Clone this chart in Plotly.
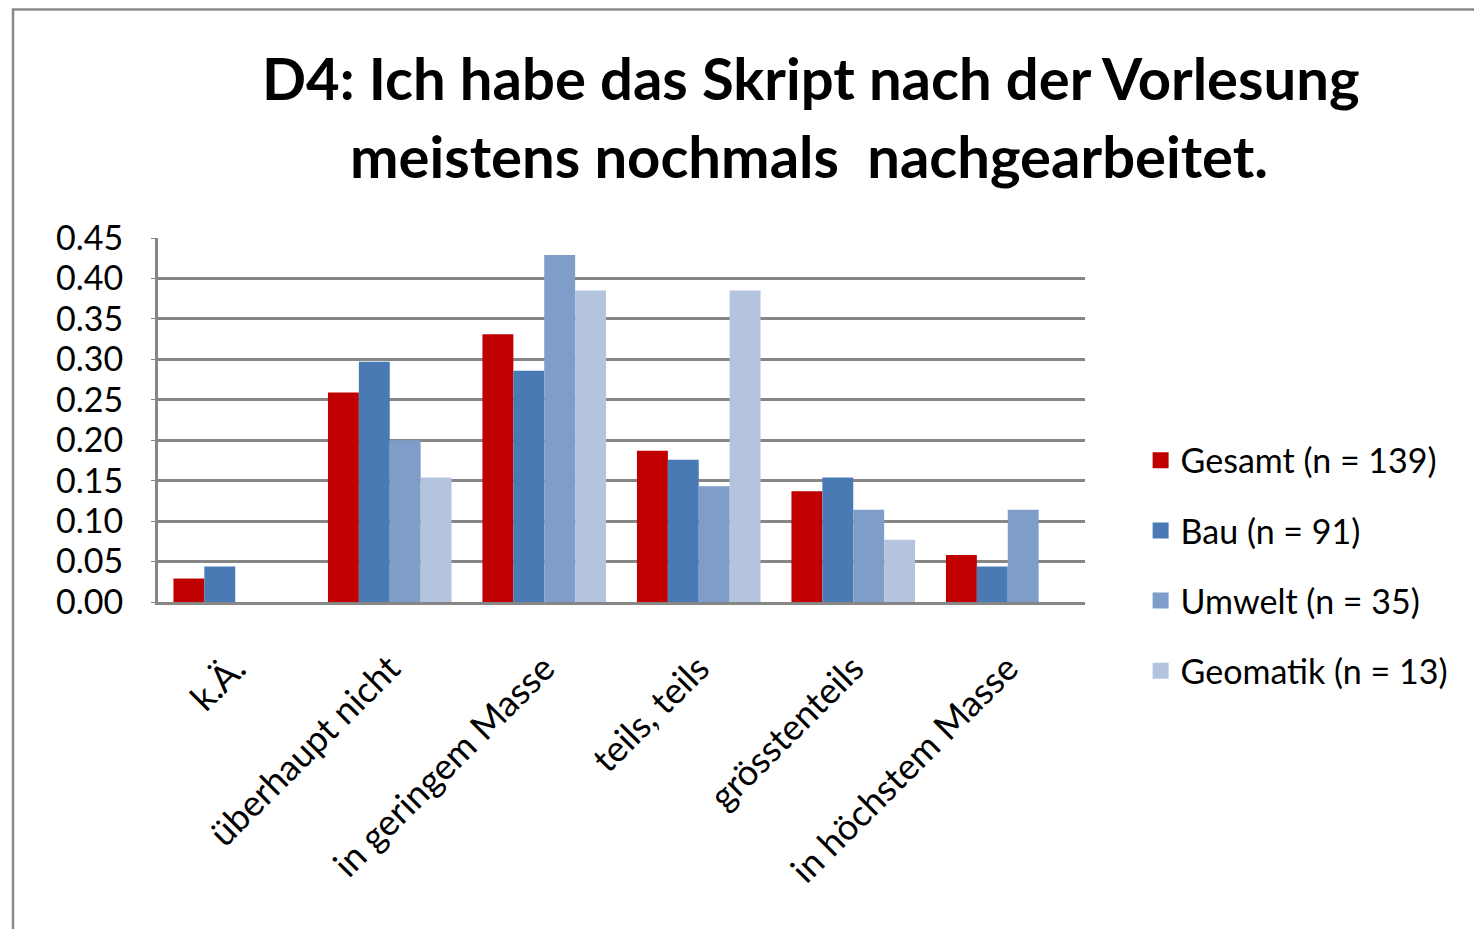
import plotly.graph_objects as go

categories = ["k.Ä.", "überhaupt nicht", "in geringem Masse", "teils, teils", "grösstenteils", "in höchstem Masse"]
series_names = ["Gesamt (n = 139)", "Bau (n = 91)", "Umwelt (n = 35)", "Geomatik (n = 13)"]
gesamt = [0.029, 0.259, 0.331, 0.187, 0.137, 0.058]
bau = [0.044, 0.297, 0.286, 0.176, 0.154, 0.044]
umwelt = [0.0, 0.200, 0.429, 0.143, 0.114, 0.114]
geomatik = [0.0, 0.154, 0.385, 0.385, 0.077, 0.0]
y_ticks = [0.0, 0.05, 0.10, 0.15, 0.20, 0.25, 0.30, 0.35, 0.40, 0.45]
title_lines = ["D4: Ich habe das Skript nach der Vorlesung", "meistens nochmals  nachgearbeitet."]

colors = ["#C00000", "#4A7AB4", "#7F9DC9", "#B4C3DE"]
FONT = "Lato, Noto Sans, sans-serif"

fig = go.Figure()
for i, (name, vals) in enumerate(zip(series_names, [gesamt, bau, umwelt, geomatik])):
    fig.add_trace(go.Bar(
        x=categories, y=vals, name=name, showlegend=False,
        marker=dict(color=colors[i], line=dict(width=0)),
    ))
# legend entries with larger square swatches
for i, name in enumerate(series_names):
    fig.add_trace(go.Scatter(
        x=[None], y=[None], mode="markers", name=name, legendgroup=str(i),
        marker=dict(symbol="square", size=20, color=colors[i]),
    ))

fig.update_layout(
    width=1474, height=921,
    paper_bgcolor="white", plot_bgcolor="white",
    margin=dict(l=150, r=397, t=230, b=327, autoexpand=False),
    barmode="group", bargap=0.2, bargroupgap=0.0,
    font=dict(family=FONT, color="black"),
    legend=dict(
        x=1.06, xanchor="left", y=0.10, yanchor="middle",
        font=dict(size=34, family=FONT, color="black"),
        tracegroupgap=23, itemwidth=30,
        bgcolor="rgba(0,0,0,0)",
    ),
    showlegend=True,
)

fig.add_annotation(text="<b>%s</b>" % title_lines[0], xref="paper", yref="paper",
                   x=0.7044, y=1.4396, xanchor="center", yanchor="middle", showarrow=False,
                   font=dict(size=58, family=FONT, color="black"))
fig.add_annotation(text="<b>%s</b>" % title_lines[1], xref="paper", yref="paper",
                   x=0.7028, y=1.228, xanchor="center", yanchor="middle", showarrow=False,
                   font=dict(size=58, family=FONT, color="black"))

fig.update_xaxes(
    type="category", tickangle=-45,
    tickfont=dict(size=36, family=FONT, color="black"),
    showline=True, linecolor="#868686", linewidth=3,
    showgrid=False, ticks="", ticklabelstandoff=28,
)
fig.update_yaxes(
    range=[0, 0.45], tickvals=y_ticks, tickformat=".2f",
    tickfont=dict(size=34, family=FONT, color="black"),
    showline=True, linecolor="#868686", linewidth=3,
    showgrid=True, gridcolor="#868686", gridwidth=2.5,
    zeroline=False, ticks="outside", ticklen=4, tickcolor="#868686",
    ticklabelstandoff=21,
)

# outer chart frame
fig.add_shape(type="rect", xref="paper", yref="paper",
              x0=-0.1564, y0=-1.2, x1=1.6, y1=1.6277,
              line=dict(color="#8a8a8a", width=2.5), fillcolor="rgba(0,0,0,0)", layer="below")

fig.write_html("out.html")
